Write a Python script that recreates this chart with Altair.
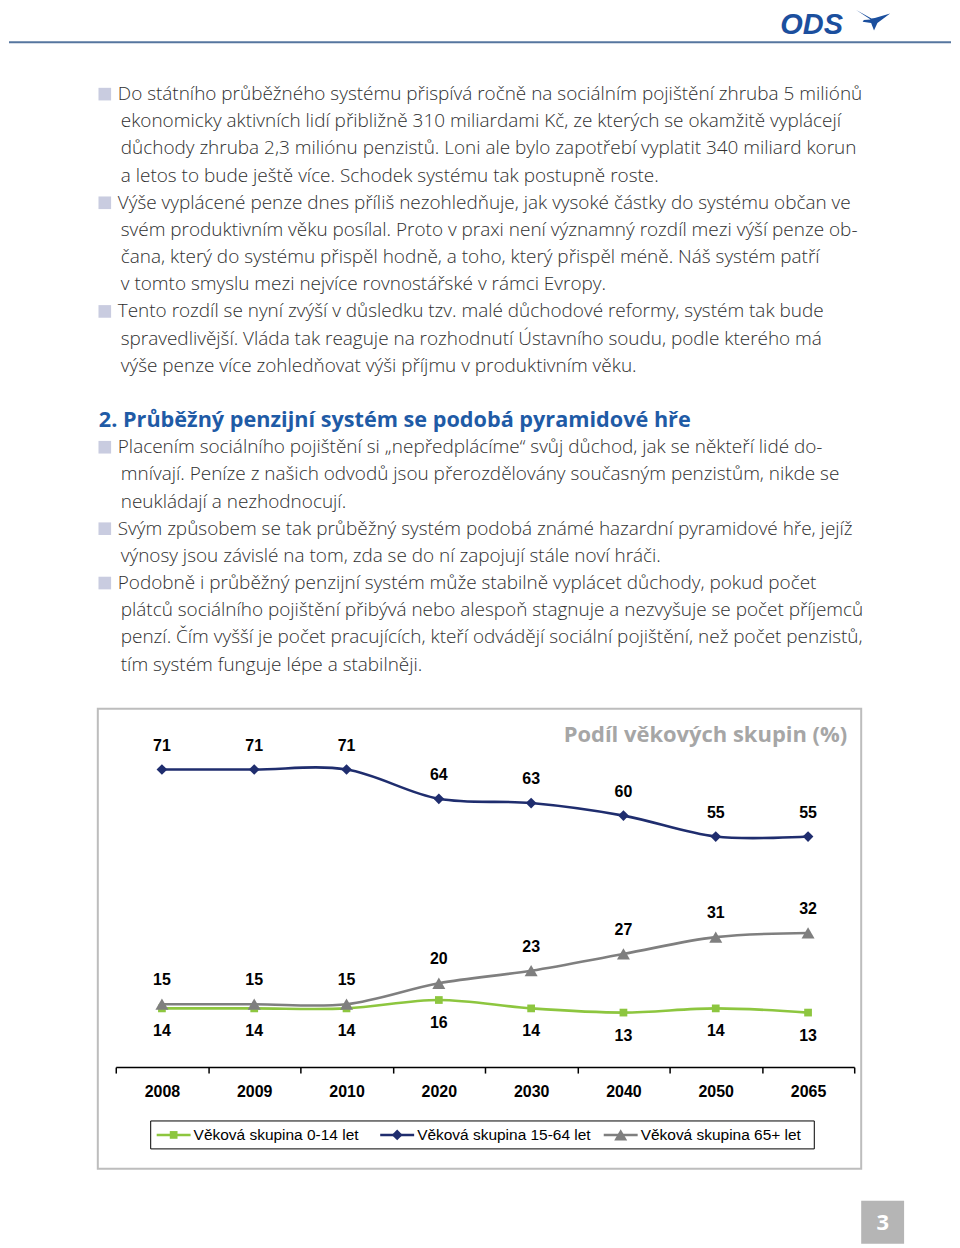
import altair as alt
import pandas as pd

# ---------------- data ----------------
years = ["2008", "2009", "2010", "2020", "2030", "2040", "2050", "2065"]
series_names = ["Věková skupina 0-14 let", "Věková skupina 15-64 let", "Věková skupina 65+ let"]
share_0_14 = [14, 14, 14, 16, 14, 13, 14, 13]
share_15_64 = [71, 71, 71, 64, 63, 60, 55, 55]
share_65 = [15, 15, 15, 20, 23, 27, 31, 32]

chart_title = "Podíl věkových skupin (%)"
heading = "2. Průběžný penzijní systém se podobá pyramidové hře"
heading_row = 12

body_lines = [
    "Do státního průběžného systému přispívá ročně na sociálním pojištění zhruba 5 miliónů",
    "ekonomicky aktivních lidí přibližně 310 miliardami Kč, ze kterých se okamžitě vyplácejí",
    "důchody zhruba 2,3 miliónu penzistů. Loni ale bylo zapotřebí vyplatit 340 miliard korun",
    "a letos to bude ještě více. Schodek systému tak postupně roste.",
    "Výše vyplácené penze dnes příliš nezohledňuje, jak vysoké částky do systému občan ve",
    "svém produktivním věku posílal. Proto v praxi není významný rozdíl mezi výší penze ob-",
    "čana, který do systému přispěl hodně, a toho, který přispěl méně. Náš systém patří",
    "v tomto smyslu mezi nejvíce rovnostářské v rámci Evropy.",
    "Tento rozdíl se nyní zvýší v důsledku tzv. malé důchodové reformy, systém tak bude",
    "spravedlivější. Vláda tak reaguje na rozhodnutí Ústavního soudu, podle kterého má",
    "výše penze více zohledňovat výši příjmu v produktivním věku.",
    "Placením sociálního pojištění si „nepředplácíme“ svůj důchod, jak se někteří lidé do-",
    "mnívají. Peníze z našich odvodů jsou přerozdělovány současným penzistům, nikde se",
    "neukládají a nezhodnocují.",
    "Svým způsobem se tak průběžný systém podobá známé hazardní pyramidové hře, jejíž",
    "výnosy jsou závislé na tom, zda se do ní zapojují stále noví hráči.",
    "Podobně i průběžný penzijní systém může stabilně vyplácet důchody, pokud počet",
    "plátců sociálního pojištění přibývá nebo alespoň stagnuje a nezvyšuje se počet příjemců",
    "penzí. Čím vyšší je počet pracujících, kteří odvádějí sociální pojištění, než počet penzistů,",
    "tím systém funguje lépe a stabilněji.",
]
body_rows = [0, 1, 2, 3, 4, 5, 6, 7, 8, 9, 10, 13, 14, 15, 16, 17, 18, 19, 20, 21]
bullet_rows = [0, 4, 8, 13, 16, 18]

# ---------------- tables ----------------
df = pd.DataFrame(
    [(y, series_names[0], v) for y, v in zip(years, share_0_14)]
    + [(y, series_names[1], v) for y, v in zip(years, share_15_64)]
    + [(y, series_names[2], v) for y, v in zip(years, share_65)],
    columns=["year", "series", "value"],
)
text_df = pd.DataFrame({"row": body_rows, "line": body_lines})
text_df["bullet"] = text_df["row"].isin(bullet_rows)
bullet_df = pd.DataFrame({"row": bullet_rows})
heading_df = pd.DataFrame({"row": [heading_row], "line": [heading]})
legend_df = pd.DataFrame({"series": series_names, "i": [0, 1, 2]})
one = pd.DataFrame({"k": [0]})

# ---------------- styles ----------------
BODY_FONT = "Open Sans"
LAB_FONT = "Liberation Sans"
colors = ["#8dc63f", "#1f2d6e", "#7f7f7f"]
shapes = ["square", "diamond", "triangle-up"]
sizes = [60, 170, 90]

color_enc = alt.Color("series:N", scale=alt.Scale(domain=series_names, range=colors), legend=None)
row_scale = alt.Scale(domain=[0, 21], range=[85, 656.6])

# ---------------- page header ----------------
header_line = alt.Chart(one).mark_rule(color="#56769f", strokeWidth=2).encode(
    x=alt.value(0), x2=alt.value(944), y=alt.value(33))
logo_text = alt.Chart(one).mark_text(
    text="ODS", font="Liberation Sans", fontSize=29, fontWeight="bold", fontStyle="italic",
    color="#1b4f9e", align="left", baseline="alphabetic").encode(x=alt.value(773), y=alt.value(25))
bird_path = ("M-1,-0.6 L-0.15,-0.05 L-0.55,-0.02 L-0.62,0.08 L-0.12,0.16 L0.05,0.6 "
             "L0.25,0.16 L1,-0.4 L0.1,-0.13 L-0.1,-0.1 Z")
logo_bird = alt.Chart(one).mark_point(shape=bird_path, filled=True, size=1156, color="#1b4f9e",
                                      opacity=1).encode(x=alt.value(866), y=alt.value(11))

# ---------------- body text ----------------
body_bullet = alt.Chart(text_df).transform_filter("datum.bullet").mark_text(
    align="left", baseline="middle", font=BODY_FONT, fontWeight=300, fontSize=19, color="#2f2f2f"
).encode(x=alt.value(109), y=alt.Y("row:Q", scale=row_scale, axis=None), text="line:N")
body_cont = alt.Chart(text_df).transform_filter("!datum.bullet").mark_text(
    align="left", baseline="middle", font=BODY_FONT, fontWeight=300, fontSize=19, color="#2f2f2f"
).encode(x=alt.value(112), y=alt.Y("row:Q", scale=row_scale, axis=None), text="line:N")
bullets = alt.Chart(bullet_df).mark_square(size=160, color="#c9cce0", opacity=1).encode(
    x=alt.value(96), y=alt.Y("row:Q", scale=row_scale, axis=None))
heading_txt = alt.Chart(heading_df).mark_text(
    align="left", baseline="middle", font=BODY_FONT, fontWeight="bold", fontSize=21.7, color="#1f5ba6"
).encode(x=alt.value(90), y=alt.Y("row:Q", scale=row_scale, axis=None), text="line:N")

# ---------------- chart box ----------------
box = alt.Chart(one).mark_rect(fill="white", stroke="#bdbdbd", strokeWidth=2).encode(
    x=alt.value(89), x2=alt.value(854), y=alt.value(701), y2=alt.value(1162))
title_txt = alt.Chart(one).mark_text(
    text=chart_title, font=BODY_FONT, fontWeight="bold", fontSize=22, color="#a6a6a6",
    align="right", baseline="middle").encode(x=alt.value(840), y=alt.value(727))

x_enc = alt.X("year:N", sort=years,
              scale=alt.Scale(type="band", range=[107, 847], paddingInner=0, paddingOuter=0),
              axis=alt.Axis(orient="bottom", offset=-180, title=None, labelAngle=0, grid=False,
                            zindex=1, domainColor="black", domainWidth=1.5, tickColor="black",
                            tickWidth=1.5, tickSize=6, tickBand="extent", labelFont=LAB_FONT,
                            labelFontSize=16, labelFontWeight="bold", labelColor="black",
                            labelPadding=10))
y_enc = alt.Y("value:Q", scale=alt.Scale(domain=[0, 80], range=[1060, 724]), axis=None)

base = alt.Chart(df).encode(x=x_enc, y=y_enc, color=color_enc)
lines = base.mark_line(interpolate="catmull-rom", strokeWidth=2.6)
pts = base.mark_point(filled=True, opacity=1).encode(
    shape=alt.Shape("series:N", scale=alt.Scale(domain=series_names, range=shapes), legend=None),
    size=alt.Size("series:N", scale=alt.Scale(domain=series_names, range=sizes), legend=None))
lab_above = base.transform_filter(alt.datum.series != series_names[0]).mark_text(
    dy=-24, font=LAB_FONT, fontWeight="bold", fontSize=16, color="black").encode(
    text="value:Q", color=alt.value("black"))
lab_below = base.transform_filter(alt.datum.series == series_names[0]).mark_text(
    dy=23, font=LAB_FONT, fontWeight="bold", fontSize=16, color="black").encode(
    text="value:Q", color=alt.value("black"))
plot = alt.layer(lines, pts, lab_above, lab_below)

# ---------------- legend ----------------
leg_x = alt.X("i:Q", scale=alt.Scale(domain=[0, 2], range=[185, 633]), axis=None)
leg_box = alt.Chart(one).mark_rect(fill="white", stroke="black", strokeWidth=1).encode(
    x=alt.value(142), x2=alt.value(807), y=alt.value(1114), y2=alt.value(1142))
leg_line = alt.Chart(legend_df).mark_point(shape="M-1,0L1,0", size=1156, filled=False,
                                           strokeWidth=2.6, xOffset=-20, opacity=1).encode(
    x=leg_x, y=alt.value(1128), color=color_enc)
leg_mark = alt.Chart(legend_df).mark_point(filled=True, xOffset=-20, opacity=1).encode(
    x=leg_x, y=alt.value(1128), color=color_enc,
    shape=alt.Shape("series:N", scale=alt.Scale(domain=series_names, range=shapes), legend=None),
    size=alt.Size("series:N", scale=alt.Scale(domain=series_names, range=[45, 110, 70]),
                  legend=None))
leg_text = alt.Chart(legend_df).mark_text(align="left", baseline="middle", font=LAB_FONT,
                                          fontSize=15.5, color="black").encode(
    x=leg_x, y=alt.value(1128), text="series:N")

# ---------------- page number ----------------
pg_box = alt.Chart(one).mark_rect(color="#b5b5b5").encode(
    x=alt.value(854), x2=alt.value(897), y=alt.value(1194), y2=alt.value(1237))
pg_txt = alt.Chart(one).mark_text(text="3", font=BODY_FONT, fontWeight="bold", fontSize=22,
                                  color="white", align="center", baseline="middle").encode(
    x=alt.value(875.5), y=alt.value(1216))

chart = alt.layer(
    header_line, logo_text, logo_bird,
    bullets, body_bullet, body_cont, heading_txt,
    box, title_txt, plot,
    leg_box, leg_line, leg_mark, leg_text,
    pg_box, pg_txt,
).resolve_scale(x="independent", y="independent").properties(
    width=944, height=1240, padding=0, background="white"
).configure_view(stroke=None)

chart.save("out.html", embed_options={"renderer": "svg", "actions": False})
